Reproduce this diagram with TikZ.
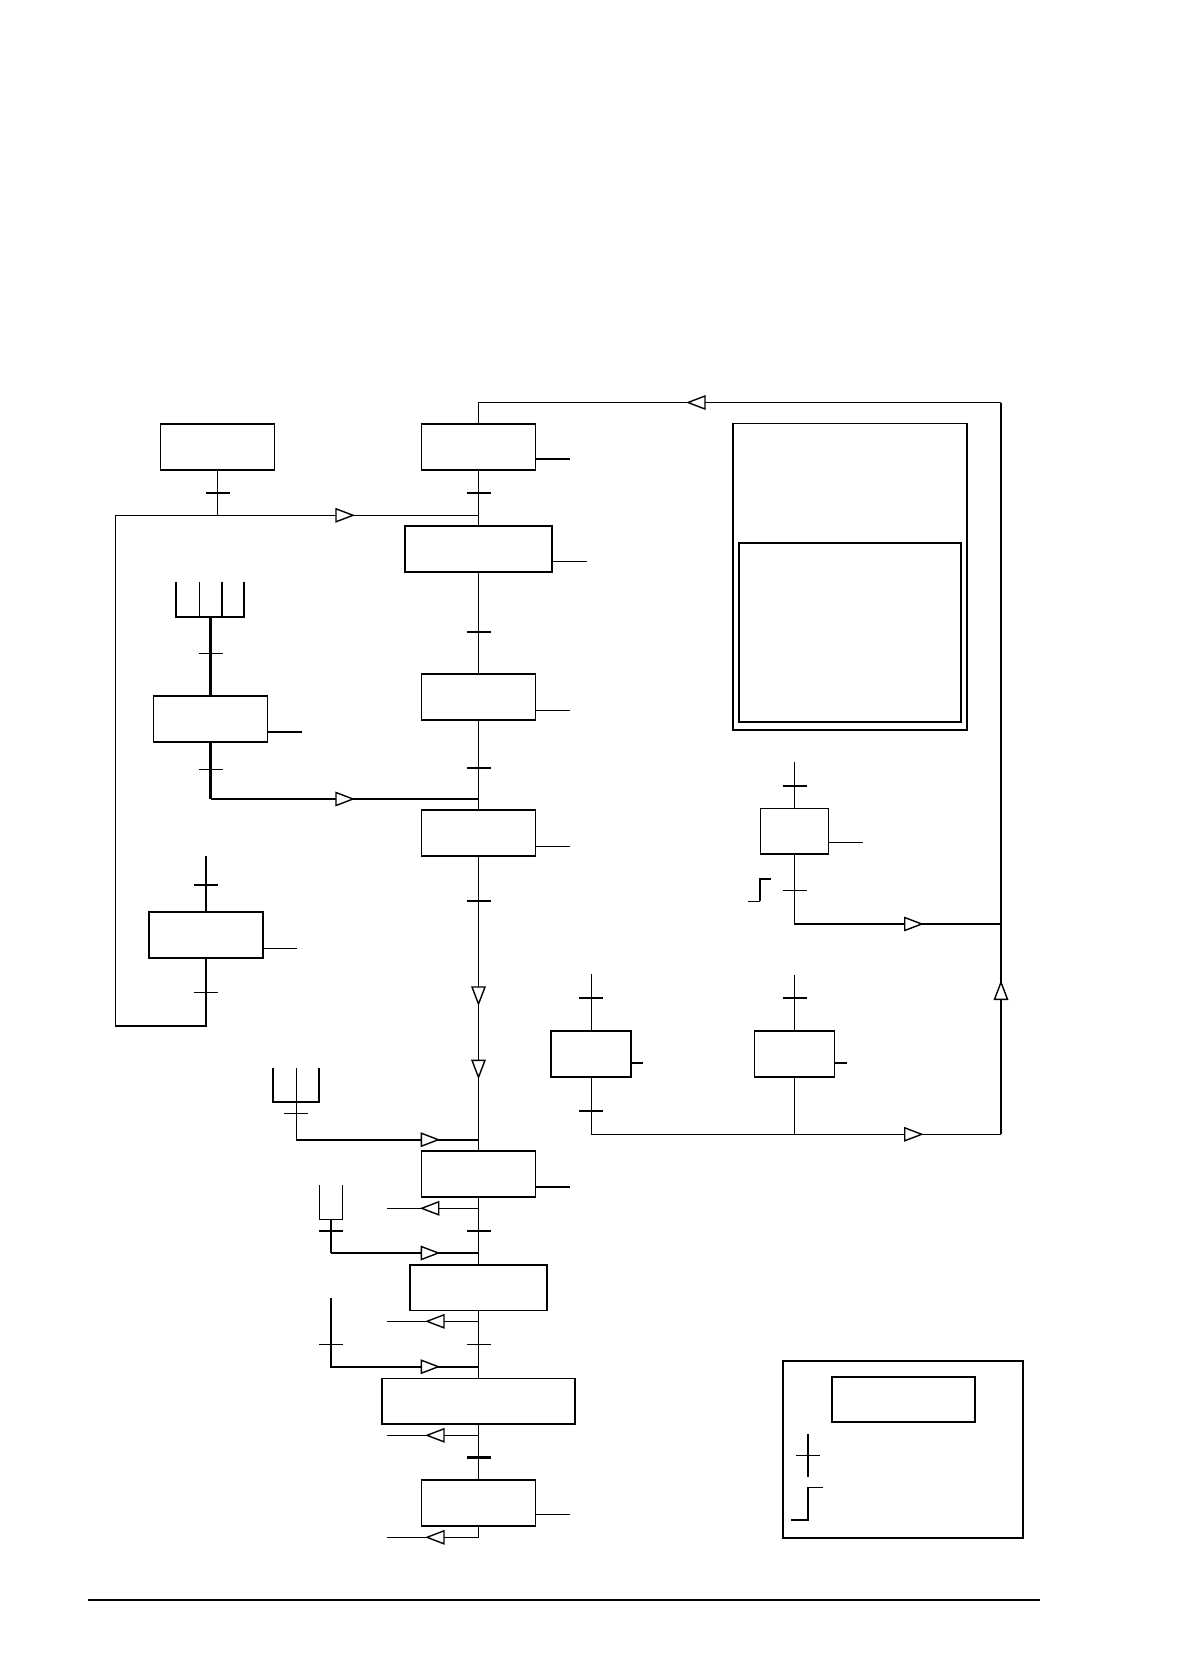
\documentclass[tikz,border=0pt]{standalone}
\usetikzlibrary{calc}
\begin{document}
\begin{tikzpicture}[x=0.5pt,y=-0.5pt,
 ln/.style={line width=0.55pt},
 lnm/.style={line width=0.8pt},
 lnb/.style={line width=1.1pt},
 bx/.style 2 args={draw, line width=0.85pt, minimum width=#1*0.5pt, minimum height=#2*0.5pt, inner sep=0pt, outer sep=0pt},
 tk/.pic={\draw[line width=0.6pt] (-12,0) -- (12,0);},
 tkb/.pic={\draw[line width=1.2pt] (-12,0) -- (12,0);},
 otri/.pic={\draw[line width=0.7pt, fill=white, line join=miter] (0,0) -- (-17,-6.5) -- (-17,6.5) -- cycle;}
]
\fill[white] (0,0) rectangle (1182,1680);
\useasboundingbox (0,0) rectangle (1182,1680);

% boxes
\node[bx={114}{46}] (A) at (217.5,447.3) {};
\node[bx={114}{46}] (B) at (478.5,447.3) {};
\node[bx={147.4}{46}] (C) at (478.5,549.3) {};
\node[bx={114}{46}] (D) at (478.5,697.2) {};
\node[bx={114}{46}] (E) at (210.5,718.7) {};
\node[bx={114}{46}] (F) at (478.5,833.2) {};
\node[bx={114}{46}] (G) at (206.3,935.3) {};
\node[bx={114}{46}] (H) at (478.5,1173.7) {};
\node[bx={136.7}{45.3}] (I) at (478.5,1287.7) {};
\node[bx={192.6}{45.7}] (J) at (478.5,1401.2) {};
\node[bx={114}{46}] (K) at (478.5,1503.2) {};
\node[bx={68}{45.7}] (L) at (794.5,831.2) {};
\node[bx={80}{46}] (M) at (591.3,1054) {};
\node[bx={80}{46}] (N) at (794.5,1054) {};
\node[bx={234}{306.7}] (P) at (850.3,576.7) {};
\node[bx={221.4}{179.6}] (Q) at (850,632.5) {};
\node[bx={240}{177.6}] (R) at (903.3,1449.5) {};
\node[bx={143.6}{45.3}] (S) at (903.5,1399.3) {};

% coordinates
\coordinate (j1) at (478.5,515.3);
\coordinate (lb) at (115.3,1025.7);
\coordinate (tl) at (478.5,402.5);
\coordinate (tr) at (1001,402.5);
\coordinate (br) at (1001,1134.3);
\coordinate (j2) at (478.5,799);
\coordinate (j3) at (478.5,1139.7);
\coordinate (j4) at (478.5,1253);
\coordinate (j5) at (478.5,1366.7);
\coordinate (rj1) at (1001,924);
\coordinate (fk1) at (210.5,617);
\coordinate (gt) at (206.3,856);
\coordinate (fk2) at (296.3,1102);
\coordinate (o1) at (386.7,1208.3);
\coordinate (u) at (331,1219.3);
\coordinate (o2) at (386.7,1321.3);
\coordinate (lv) at (330.7,1298.3);
\coordinate (o3) at (386.7,1435.3);
\coordinate (o4) at (386.7,1537.3);
\coordinate (lt) at (794.5,762.3);
\coordinate (mt) at (591.3,974);
\coordinate (nt) at (794.5,975);

% main column
\draw[ln] (B.south) -- (C.north);
\draw[ln] (A.south) -- (A.south |- j1);
\draw[lnb] (G.south) -- (G.south |- lb) -- (lb);
\draw[lnm] (lb) -- (lb |- j1);
\draw[ln] (lb |- j1) -- (j1);
\draw[ln] (B.north) -- (tl) -- (tr);
\draw[lnb] (tr) -- (br);
\draw[ln] (C.south) -- (D.north);
\draw[ln] (D.south) -- (F.north);
\draw[lnb] (E.south) -- (E.south |- j2);
\draw[ln] (E.south |- j2) -- (j2);
% fork 1
\draw[lnb] (176.3,582) -- (176.3,617) -- (244.3,617) -- (244.3,582);
\draw[ln] (199.3,582) -- (199.3,617);
\draw[lnb] (221.7,582) -- (221.7,617);
\draw[lnb] (fk1) -- (E.north);
\draw[lnb] (gt) -- (G.north);
\draw[ln] (F.south) -- (j3) -- (H.north);
% fork 2
\draw[lnb] (272.7,1068.3) -- (272.7,1102) -- (319,1102) -- (319,1068.3);
\draw[ln] (296.3,1068.3) -- (fk2);
\draw[ln] (fk2) -- (fk2 |- j3);
\draw[lnb] (fk2 |- j3) -- (j3);
\draw[ln] (H.south) -- (I.north);
\draw[ln] (H.south |- o1) -- (o1);
\draw[ln] (319.3,1185) -- (319.3,1219.3) -- (342.3,1219.3) -- (342.3,1185);
\draw[lnb] (u) -- (u |- j4);
\draw[ln] (u |- j4) -- (j4);
\draw[ln] (I.south) -- (J.north);
\draw[ln] (I.south |- o2) -- (o2);
\draw[lnb] (lv) -- (lv |- j5) -- (j5);
\draw[ln] (J.south) -- (K.north);
\draw[ln] (J.south |- o3) -- (o3);
\draw[ln] (K.south) -- (K.south |- o4) -- (o4);

% right part
\draw[ln] (lt) -- (L.north);
\draw[ln] (L.south) -- (L.south |- rj1) -- (rj1);
\draw[ln] (mt) -- (M.north);
\draw[ln] (nt) -- (N.north);
\draw[ln] (M.south) -- (M.south |- br) -- (br);
\draw[ln] (N.south) -- (N.south |- br);
\draw[ln] (748,901.3) -- (760,901.3);
\draw[lnb] (760,901.3) -- (760,878.7) -- (770.7,878.7);

% outputs
\draw[lnb] (B.south east) ++(0,-11.3) -- ++(34.3,0);
\draw[ln] (C.south east) ++(0,-11) -- ++(34.3,0);
\draw[ln] (D.south east) ++(0,-9.5) -- ++(34.3,0);
\draw[lnb] (E.south east) ++(0,-9.7) -- ++(34.7,0);
\draw[ln] (F.south east) ++(0,-9.4) -- ++(34.3,0);
\draw[ln] (G.south east) ++(0,-10) -- ++(33.7,0);
\draw[lnb] (H.south east) ++(0,-10) -- ++(34.3,0);
\draw[ln] (K.south east) ++(0,-12) -- ++(34.3,0);
\draw[ln] (L.south east) ++(0,-11.7) -- ++(34.4,0);
\draw[ln] (M.south east) ++(0,-14) -- ++(11.4,0);
\draw[ln] (N.south east) ++(0,-14) -- ++(12.4,0);

% ticks
\pic at (217.5,493) {tkb};
\pic at (478.5,493) {tkb};
\pic at (478.5,631.7) {tkb};
\pic at (478.5,768) {tkb};
\pic at (210.5,653.3) {tk};
\pic at (210.5,769.3) {tk};
\pic at (206.3,885) {tk};
\pic at (206.3,992.3) {tk};
\pic at (478.5,901) {tk};
\pic at (296.3,1113.3) {tk};
\pic at (478.5,1231) {tkb};
\pic at (331,1231) {tkb};
\pic at (478.5,1344.3) {tk};
\pic at (330.7,1344.3) {tk};
\pic at (478.5,1457.3) {tkb};
\pic at (794.5,785.7) {tkb};
\pic at (795,890.3) {tk};
\pic at (591.3,997.7) {tkb};
\pic at (794.5,997.7) {tkb};
\pic at (591.3,1110.7) {tkb};

% arrows
\pic[rotate=180] at (688,402.5) {otri};
\pic at (353,515.3) {otri};
\pic at (353,799) {otri};
\pic[rotate=-90] at (478.5,1004) {otri};
\pic[rotate=-90] at (478.5,1077.3) {otri};
\pic at (921.7,924) {otri};
\pic at (921.7,1134.3) {otri};
\pic[rotate=90] at (1001,982.3) {otri};
\pic at (438.3,1139.7) {otri};
\pic[rotate=180] at (421.7,1208.3) {otri};
\pic at (438.3,1253) {otri};
\pic[rotate=180] at (427,1321.3) {otri};
\pic at (438.3,1366.7) {otri};
\pic[rotate=180] at (427,1435.3) {otri};
\pic[rotate=180] at (427,1537.3) {otri};

% legend
\draw[lnb] (807.7,1434.3) -- (807.7,1476.7);
\pic at (807.7,1455.3) {tk};
\draw[lnb] (791,1520) -- (807.7,1520) -- (807.7,1487.3);
\draw[ln] (807.7,1487.3) -- (823.3,1487.3);

% bottom rule
\draw[lnm] (88,1600) -- (1040,1600);
\end{tikzpicture}
\end{document}
